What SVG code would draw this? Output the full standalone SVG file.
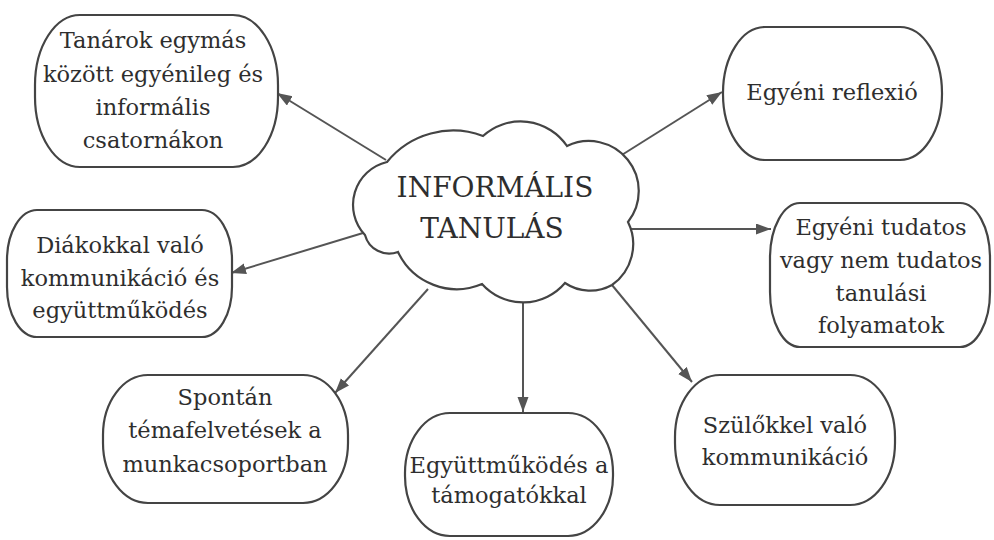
<svg xmlns="http://www.w3.org/2000/svg" width="994" height="540" viewBox="0 0 994 540">
<defs>
<marker id="ah" markerUnits="userSpaceOnUse" markerWidth="16" markerHeight="12" refX="15" refY="5.5" orient="auto">
<path d="M0,0 L15,5.5 L0,11 z" fill="#555"/>
</marker>
<style>
.box{fill:#fff;stroke:#444;stroke-width:2.2}
.t{font-family:"DejaVu Serif","Liberation Serif",serif;font-size:22.5px;fill:#2e2e2e;text-anchor:middle}
.ct{font-family:"DejaVu Serif","Liberation Serif",serif;font-size:28px;fill:#2e2e2e;text-anchor:middle}
.c{stroke:#555;stroke-width:2;fill:none;marker-end:url(#ah)}
</style>
</defs>
<rect width="994" height="540" fill="#fff"/>
<g id="connectors">
<line class="c" x1="386" y1="160" x2="277" y2="93"/>
<line class="c" x1="617" y1="158" x2="722" y2="92"/>
<line class="c" x1="628" y1="229" x2="771" y2="229"/>
<line class="c" x1="363" y1="233" x2="231" y2="273"/>
<line class="c" x1="428" y1="289" x2="335" y2="393"/>
<line class="c" x1="523" y1="303" x2="523" y2="412"/>
<line class="c" x1="612" y1="285" x2="692" y2="382"/>
</g>
<g id="center">
<path class="box" d="M387,162 A85,85 0 0 1 483,136 A56,56 0 0 1 567,146 A50,50 0 0 1 628,222 A50,50 0 0 1 612,285 A45,45 0 0 1 565,283 A55,55 0 0 1 482,284 A65,65 0 0 1 398,252 A25,25 0 0 1 365,235 A44,44 0 0 1 387,162 Z"/>
<text class="ct" x="495" y="197">INFORMÁLIS</text>
<text class="ct" x="492" y="238">TANULÁS</text>
</g>
<g id="n1">
<rect class="box" x="35" y="15" width="243" height="152" rx="45" ry="70"/>
<text class="t" x="153" y="48">Tanárok egymás</text>
<text class="t" x="153" y="82">között egyénileg és</text>
<text class="t" x="153" y="115">informális</text>
<text class="t" x="153" y="148">csatornákon</text>
</g>
<g id="n2">
<rect class="box" x="723" y="27" width="219" height="133" rx="42" ry="66"/>
<text class="t" x="832" y="100">Egyéni reflexió</text>
</g>
<g id="n3">
<rect class="box" x="770" y="203" width="220" height="144" rx="30" ry="55"/>
<text class="t" x="881" y="235">Egyéni tudatos</text>
<text class="t" x="881" y="268">vagy nem tudatos</text>
<text class="t" x="881" y="301">tanulási</text>
<text class="t" x="881" y="333">folyamatok</text>
</g>
<g id="n4">
<rect class="box" x="7" y="210" width="225" height="127" rx="30" ry="50"/>
<text class="t" x="120" y="253">Diákokkal való</text>
<text class="t" x="120" y="286">kommunikáció és</text>
<text class="t" x="120" y="318">együttműködés</text>
</g>
<g id="n5">
<rect class="box" x="103" y="375" width="245" height="128" rx="45" ry="60"/>
<text class="t" x="225" y="405">Spontán</text>
<text class="t" x="225" y="438">témafelvetések a</text>
<text class="t" x="225" y="472">munkacsoportban</text>
</g>
<g id="n6">
<rect class="box" x="405" y="413" width="208" height="123" rx="45" ry="60"/>
<text class="t" x="509" y="473">Együttműködés a</text>
<text class="t" x="509" y="503">támogatókkal</text>
</g>
<g id="n7">
<rect class="box" x="675" y="375" width="220" height="130" rx="45" ry="62"/>
<text class="t" x="785" y="433">Szülőkkel való</text>
<text class="t" x="785" y="465">kommunikáció</text>
</g>
</svg>
